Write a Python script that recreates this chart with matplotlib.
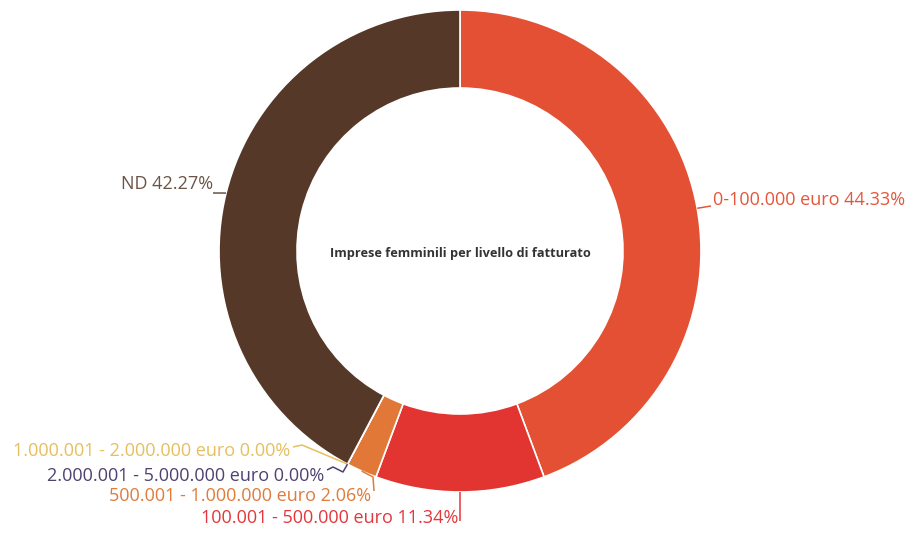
import numpy as np
import matplotlib
matplotlib.use('Agg')
import matplotlib.pyplot as plt

W, H = 906, 536

# revenue classes, in clockwise order from 12 o'clock
categories = ["0-100.000 euro", "100.001 - 500.000 euro", "500.001 - 1.000.000 euro",
              "1.000.001 - 2.000.000 euro", "2.000.001 - 5.000.000 euro", "ND"]
shares = [44.33, 11.34, 2.06, 0.00, 0.00, 42.27]
slice_colors = ["#E45033", "#E23431", "#E27838", "#E8C063", "#4E3F6E", "#553828"]
text_colors = ["#E5563A", "#E3373B", "#E07B3A", "#E6BF5E", "#4F4170", "#6A5447"]

# label layout in pixel coords (y down): bend points of the leader, text anchor, alignment
label_layout = [
    ([(711, 206)], (713, 200), "left"),
    ([(460, 521)], (458, 518), "right"),
    ([(373, 477), (374, 491)], (371, 496), "right"),
    ([(302, 445), (293, 447)], (290, 451), "right"),
    ([(343, 472), (333, 467), (327, 470)], (324, 476), "right"),
    ([(213, 193)], (213, 184), "right"),
]

cx, cy = 460, 251
r_out, r_in = 241, 163

fig = plt.figure(figsize=(W / 100, H / 100), dpi=100)
ax = fig.add_axes([0, 0, 1, 1])

ax.pie(shares, colors=slice_colors, startangle=90, counterclock=False,
       center=(cx, H - cy), radius=r_out,
       wedgeprops=dict(width=r_out - r_in, edgecolor='white', linewidth=1.2))

ax.set_xlim(0, W)
ax.set_ylim(0, H)
ax.set_aspect('equal')
ax.axis('off')

ax.text(cx, H - 254, "Imprese femminili per livello di fatturato", ha='center', va='center',
        fontsize=9.2, fontweight='bold', family='Open Sans', color='#333333')

# leader lines start on the outer edge at each slice's middle angle
total = sum(shares)
start = 0.0
for cat, val, tc, (bends, (tx, ty), ha) in zip(categories, shares, text_colors, label_layout):
    mid = np.deg2rad((start + val / 2) / total * 360)
    start += val
    ax0 = cx + r_out * np.sin(mid)
    ay0 = cy - r_out * np.cos(mid)
    xs = [ax0] + [b[0] for b in bends]
    ys = [H - ay0] + [H - b[1] for b in bends]
    ax.plot(xs, ys, color=tc, lw=1.1, solid_capstyle='butt')
    ax.text(tx, H - ty, f"{cat} {val:.2f}%", ha=ha, va='center', color=tc,
            fontsize=13, family='Open Sans')

fig.savefig("out.png", dpi=100)
